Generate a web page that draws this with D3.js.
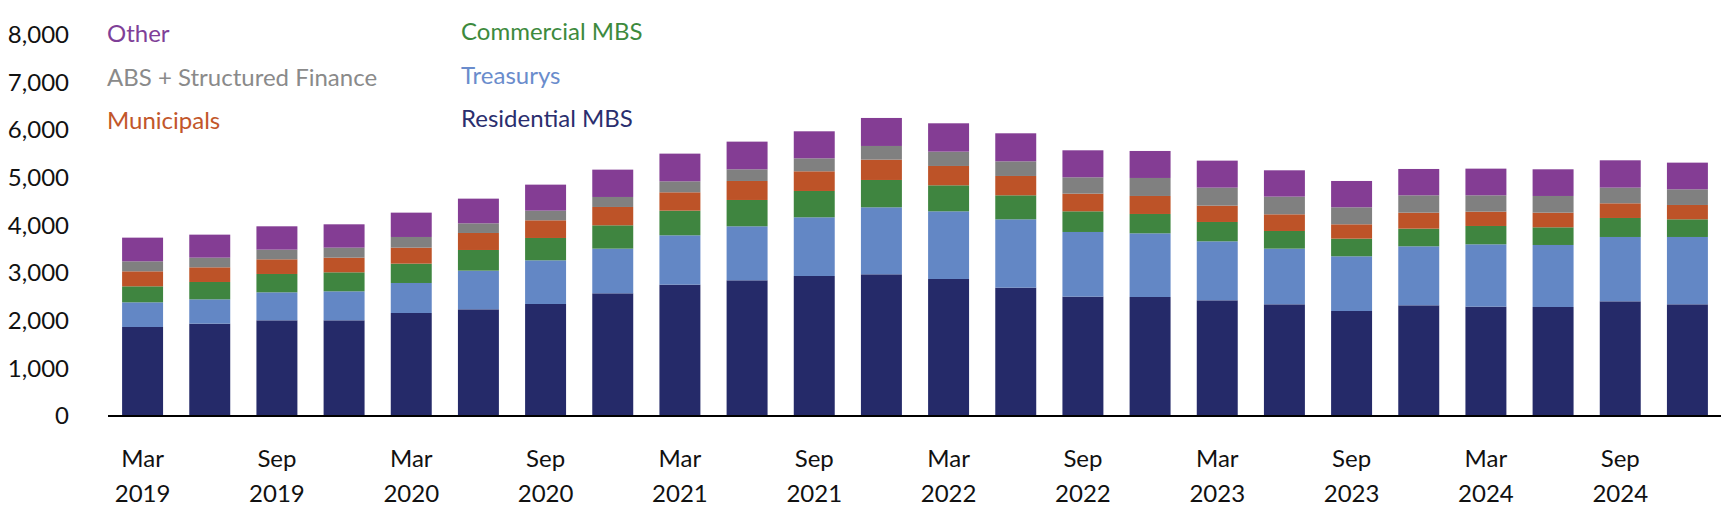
<!DOCTYPE html>
<html>
<head>
<meta charset="utf-8">
<script src="https://cdn.jsdelivr.net/npm/d3@7"></script>
<style>
  body { margin: 0; background: #fff; }
  text { font-family: Lato, "Noto Sans", sans-serif; }
</style>
</head>
<body>
<svg id="chart" width="1732" height="508"></svg>
<script>
// quarters, Mar 2019 .. Dec 2024
var quarters = ['Mar 2019', 'Jun 2019', 'Sep 2019', 'Dec 2019', 'Mar 2020', 'Jun 2020', 'Sep 2020', 'Dec 2020',
    'Mar 2021', 'Jun 2021', 'Sep 2021', 'Dec 2021', 'Mar 2022', 'Jun 2022', 'Sep 2022', 'Dec 2022',
    'Mar 2023', 'Jun 2023', 'Sep 2023', 'Dec 2023', 'Mar 2024', 'Jun 2024', 'Sep 2024', 'Dec 2024'];

var residentialMBS = [1869, 1939, 2009, 2009, 2163, 2240, 2352, 2576, 2758, 2849, 2940, 2975,
    2877, 2695, 2506, 2499, 2429, 2345, 2205, 2324, 2296, 2289, 2408, 2345];
var treasurys = [518, 511, 588, 609, 630, 812, 917, 938, 1036, 1134, 1232, 1407,
    1421, 1435, 1358, 1337, 1239, 1169, 1148, 1239, 1309, 1302, 1351, 1414];
var commercialMBS = [336, 364, 385, 399, 406, 434, 469, 490, 518, 553, 553, 574,
    546, 504, 434, 406, 406, 371, 371, 371, 385, 371, 399, 371];
var municipals = [315, 308, 308, 308, 336, 357, 371, 385, 385, 399, 413, 427,
    406, 406, 371, 378, 343, 350, 301, 336, 301, 308, 308, 301];
var absStructured = [210, 203, 203, 210, 224, 203, 203, 210, 231, 245, 273, 287,
    301, 308, 343, 378, 378, 371, 357, 364, 343, 350, 329, 329];
var other = [497, 483, 490, 490, 511, 518, 546, 574, 581, 581, 567, 588,
    595, 588, 567, 567, 567, 553, 553, 553, 560, 560, 574, 560];

var yTicks = [0, 1000, 2000, 3000, 4000, 5000, 6000, 7000, 8000];

var seriesKeys = ['rmbs', 'treas', 'cmbs', 'muni', 'abs', 'other'];
var seriesNames = {
    rmbs: 'Residential MBS', treas: 'Treasurys', cmbs: 'Commercial MBS',
    muni: 'Municipals', abs: 'ABS + Structured Finance', other: 'Other'
};
var barColors = {
    rmbs: '#252a69', treas: '#6387c5', cmbs: '#3f8540',
    muni: '#bd5328', abs: '#808080', other: '#843d94'
};

var table = quarters.map(function(q, i) {
    return {
        q: q, rmbs: residentialMBS[i], treas: treasurys[i], cmbs: commercialMBS[i],
        muni: municipals[i], abs: absStructured[i], other: other[i]
    };
});

var svg = d3.select('#chart');

var x = d3.scaleBand()
    .domain(quarters)
    .range([109, 1721])
    .paddingInner(0.39)
    .paddingOuter(0.195);

var y = d3.scaleLinear()
    .domain([0, 8000])
    .range([416, 35]);

var stacked = d3.stack().keys(seriesKeys)(table);

svg.append('g').selectAll('g')
    .data(stacked)
    .join('g')
    .attr('fill', function(d) { return barColors[d.key]; })
    .selectAll('rect')
    .data(function(d) { return d; })
    .join('rect')
    .attr('x', function(d) { return x(d.data.q); })
    .attr('width', x.bandwidth())
    .attr('y', function(d) { return y(d[1]); })
    .attr('height', function(d) { return y(d[0]) - y(d[1]); });

// y axis labels, no line
var yAxis = svg.append('g')
    .attr('transform', 'translate(72,0)')
    .call(d3.axisLeft(y).tickValues(yTicks).tickSize(0).tickFormat(d3.format(',')));
yAxis.select('.domain').remove();
yAxis.selectAll('text')
    .style('font-size', '24px')
    .style('fill', '#111')
    .style('font-family', 'Lato, "Noto Sans", sans-serif');

// baseline
svg.append('line')
    .attr('x1', 108).attr('x2', 1721)
    .attr('y1', y(0)).attr('y2', y(0))
    .attr('stroke', '#000').attr('stroke-width', 2);

// x labels every other quarter
var xLabels = svg.append('g');
quarters.forEach(function(q, i) {
    if (i % 2 !== 0) return;
    var parts = q.split(' ');
    var cx = x(q) + x.bandwidth() / 2;
    var t = xLabels.append('text')
        .attr('x', cx)
        .attr('text-anchor', 'middle')
        .style('font-size', '24px')
        .style('fill', '#111');
    t.append('tspan').attr('x', cx).attr('y', 467).text(parts[0]);
    t.append('tspan').attr('x', cx).attr('y', 502).text(parts[1]);
});

// legend
var legendItems = [
    { key: 'other', x: 107, y: 42, color: '#7f3f98' },
    { key: 'abs', x: 107, y: 86, color: '#8a8a8a' },
    { key: 'muni', x: 107, y: 129, color: '#c2562a' },
    { key: 'cmbs', x: 461, y: 40, color: '#3d8a3d' },
    { key: 'treas', x: 461, y: 84, color: '#6a8ccc' },
    { key: 'rmbs', x: 461, y: 127, color: '#2a2e6e' }
];
svg.append('g').selectAll('text')
    .data(legendItems)
    .join('text')
    .attr('x', function(d) { return d.x; })
    .attr('y', function(d) { return d.y; })
    .style('font-size', '24px')
    .style('fill', function(d) { return d.color; })
    .text(function(d) { return seriesNames[d.key]; });
</script>
</body>
</html>
